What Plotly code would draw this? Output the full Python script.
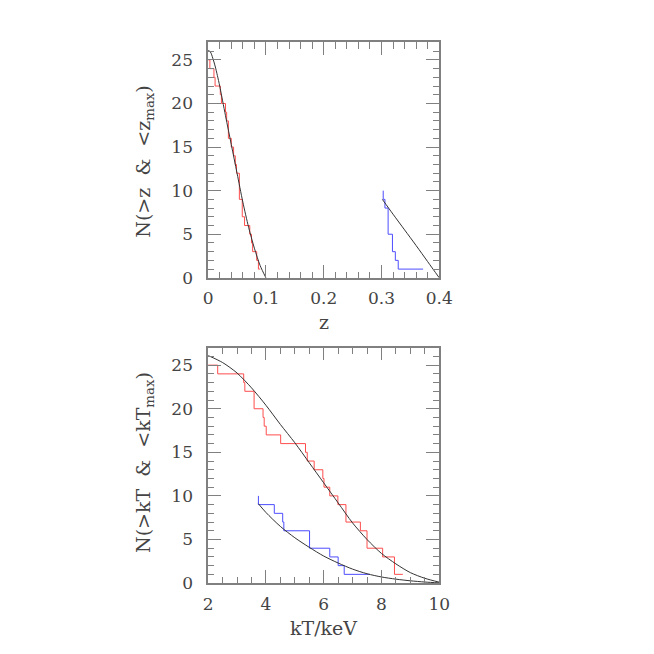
import plotly.graph_objects as go

# ---------------- top panel: redshift ----------------
# low-z sample (red), cumulative step counts
z_lowz_steps = [0.0, 0.003, 0.010, 0.012, 0.021, 0.023, 0.030, 0.032, 0.035, 0.040, 0.044,
                0.047, 0.049, 0.054, 0.059, 0.063, 0.072, 0.075, 0.077, 0.084, 0.087, 0.090]
N_lowz_steps = [25, 24, 23, 22, 21, 20, 19, 18, 16, 15, 14,
                13, 12, 9, 7, 6, 5, 4, 3, 2, 1, 1]
# high-z sample (blue)
z_highz_steps = [0.303, 0.303, 0.306, 0.3115, 0.319, 0.324, 0.329, 0.372]
N_highz_steps = [10, 9, 8, 5, 3, 2, 1, 1]
# model curves (black)
z_lowz_model = [0.0, 0.004, 0.008, 0.012, 0.016, 0.02, 0.03, 0.04, 0.05, 0.06, 0.07, 0.08, 0.09, 0.1]
N_lowz_model = [26.1, 25.9, 25.2, 24.3, 23.2, 22.0, 18.6, 15.3, 12.0, 8.7, 5.8, 3.4, 1.4, 0.0]
z_highz_model = [0.3015, 0.32, 0.34, 0.36, 0.38, 0.4]
N_highz_model = [9.0, 7.3, 5.5, 3.7, 1.85, 0.0]

# ---------------- bottom panel: temperature ----------------
kT_lowz_steps = [2.0, 2.33, 3.23, 3.27, 3.59, 3.90, 3.94, 4.01, 4.51, 5.37, 5.43,
                 5.67, 5.97, 6.01, 6.21, 6.49, 6.77, 7.27, 7.50, 8.04, 8.45, 8.74]
N_kT_lowz_steps = [25, 24, 23, 22, 20, 19, 18, 17, 16, 15, 14,
                   13, 12, 11, 10, 9, 7, 6, 4, 3, 1, 1]
kT_highz_steps = [3.74, 3.74, 4.29, 4.58, 4.62, 5.51, 6.21, 6.50, 6.71, 7.60]
N_kT_highz_steps = [10, 9, 8, 7, 6, 4, 3, 2, 1, 1]
kT_lowz_model = [2.0, 2.5, 3.0, 3.5, 4.0, 4.5, 5.0, 5.5, 6.0, 6.5, 7.0, 7.5, 8.0, 8.5, 9.0, 9.5, 10.0]
N_kT_lowz_model = [26.1, 25.3, 24.1, 22.4, 20.4, 18.2, 16.1, 13.8, 11.5, 9.2, 6.9, 5.0, 3.4, 2.2, 1.2, 0.55, 0.1]
kT_highz_model = [3.74, 4.0, 4.5, 5.0, 5.5, 6.0, 6.5, 7.0, 7.5, 8.0, 8.5, 9.0, 9.5, 10.0]
N_kT_highz_model = [9.1, 8.1, 6.5, 5.2, 4.1, 3.1, 2.3, 1.6, 1.07, 0.70, 0.45, 0.26, 0.12, 0.02]

RED = "#ff4d4d"
BLUE = "#4d4dff"
BLACK = "#333333"
FRAME = "#808080"
TXT = "#444444"
FONT = "DejaVu Serif"

W = H = 654
def px_x(p):
    return p / W
def px_y(p):
    return 1 - p / H

fig = go.Figure()

def step(x, y, color, xa, ya):
    fig.add_trace(go.Scatter(x=x, y=y, mode="lines", line=dict(color=color, width=1, shape="hv"),
                             xaxis=xa, yaxis=ya, showlegend=False, hoverinfo="skip"))

def model(x, y, xa, ya):
    fig.add_trace(go.Scatter(x=x, y=y, mode="lines", line=dict(color=BLACK, width=1, shape="spline", smoothing=0.8),
                             xaxis=xa, yaxis=ya, showlegend=False, hoverinfo="skip"))

step(z_lowz_steps, N_lowz_steps, RED, "x", "y")
step(z_highz_steps, N_highz_steps, BLUE, "x", "y")
model(z_lowz_model, N_lowz_model, "x", "y")
model(z_highz_model, N_highz_model, "x", "y")

step(kT_lowz_steps, N_kT_lowz_steps, RED, "x2", "y2")
step(kT_highz_steps, N_kT_highz_steps, BLUE, "x2", "y2")
model(kT_lowz_model, N_kT_lowz_model, "x2", "y2")
model(kT_highz_model, N_kT_highz_model, "x2", "y2")

def axis(rng, dtick, mdtick, domain, anchor, standoff):
    return dict(range=rng, dtick=dtick, tick0=rng[0] if dtick != 0.1 else 0, domain=domain, anchor=anchor,
                showgrid=False, zeroline=False, showline=True, linecolor=FRAME, linewidth=1.5,
                mirror="allticks", ticks="inside", ticklen=13, tickwidth=1.2, tickcolor=FRAME,
                minor=dict(dtick=mdtick, ticks="inside", ticklen=6.5, tickwidth=1.2, tickcolor=FRAME, showgrid=False),
                tickfont=dict(family=FONT, size=17, color=TXT), ticklabelstandoff=standoff)

xdom = [px_x(201), px_x(439)]
ydom_top = [px_y(274), px_y(35)]
ydom_bot = [px_y(584), px_y(345)]

fig.update_layout(
    width=W, height=H, margin=dict(l=0, r=0, t=0, b=0),
    paper_bgcolor="white", plot_bgcolor="white", showlegend=False,
    xaxis=axis([0, 0.4], 0.1, 0.02, xdom, "y", 4),
    yaxis=axis([0, 27], 5, 1, ydom_top, "x", 10),
    xaxis2=axis([2, 10], 2, 0.5, xdom, "y2", 5),
    yaxis2=axis([0, 27], 5, 1, ydom_bot, "x2", 10),
)

ann_font = dict(family=FONT, size=19, color=TXT)
fig.add_annotation(text="z", x=px_x(320), y=px_y(319), xref="paper", yref="paper",
                   showarrow=False, font=ann_font, xanchor="center", yanchor="middle")
fig.add_annotation(text="kT/keV", x=px_x(320), y=px_y(630), xref="paper", yref="paper",
                   showarrow=False, font=ann_font, xanchor="center", yanchor="middle")
fig.add_annotation(text="N(&gt;z&nbsp; &amp;&nbsp; &lt;z<sub>max</sub>)", x=px_x(136), y=px_y(156),
                   xref="paper", yref="paper", showarrow=False, font=ann_font, textangle=-90,
                   xanchor="center", yanchor="middle")
fig.add_annotation(text="N(&gt;kT&nbsp; &amp;&nbsp; &lt;kT<sub>max</sub>)", x=px_x(136), y=px_y(462),
                   xref="paper", yref="paper", showarrow=False, font=ann_font, textangle=-90,
                   xanchor="center", yanchor="middle")

fig.write_html("out.html")
